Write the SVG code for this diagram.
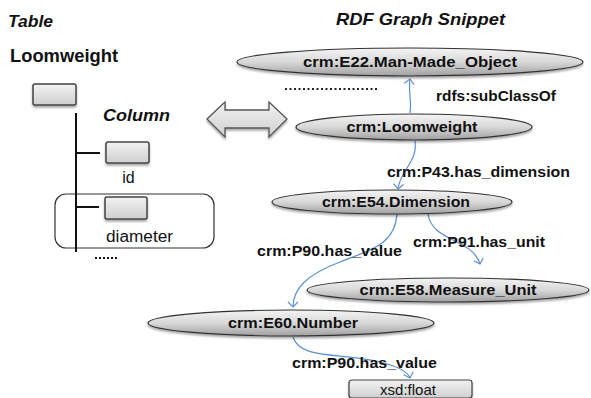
<svg xmlns="http://www.w3.org/2000/svg" width="591" height="398" viewBox="0 0 591 398">
<defs>
<linearGradient id="eg" x1="0" y1="0" x2="0" y2="1">
<stop offset="0" stop-color="#f4f4f4"/>
<stop offset="0.5" stop-color="#d8d8d8"/>
<stop offset="1" stop-color="#a0a0a0"/>
</linearGradient>
<linearGradient id="bg" x1="0" y1="0" x2="0" y2="1">
<stop offset="0" stop-color="#f2f2f2"/>
<stop offset="1" stop-color="#cfcfcf"/>
</linearGradient>
<filter id="sh" x="-10%" y="-30%" width="120%" height="170%">
<feGaussianBlur in="SourceAlpha" stdDeviation="1.2"/>
<feOffset dx="0" dy="2" result="b"/>
<feComponentTransfer><feFuncA type="linear" slope="0.35"/></feComponentTransfer>
<feMerge><feMergeNode/><feMergeNode in="SourceGraphic"/></feMerge>
</filter>
<marker id="ah" markerWidth="12" markerHeight="12" refX="6" refY="6" orient="auto" markerUnits="userSpaceOnUse">
<path d="M1,1 L6,6 L1,11" fill="none" stroke="#5b8fd0" stroke-width="1.2"/>
</marker>
</defs>
<style>
.t{font-family:"Liberation Sans",Arial,sans-serif;fill:#111}
.h{font-size:17px;font-weight:bold;font-style:italic}
.lab{font-size:15.5px;font-weight:bold}
.nl{font-size:15.5px;font-weight:bold;text-anchor:middle}
.ell{fill:url(#eg);stroke:#333;stroke-width:1.2;filter:url(#sh)}
.box{fill:url(#bg);stroke:#444;stroke-width:1.5;filter:url(#sh)}
.c{fill:none;stroke:#5b8fd0;stroke-width:1.2;marker-end:url(#ah)}
</style>
<rect width="591" height="398" fill="#fff"/>

<g id="left-table">
<text class="t h" x="8" y="27" textLength="45" lengthAdjust="spacingAndGlyphs">Table</text>
<text class="t" x="10" y="62" style="font-size:17.5px;font-weight:bold" textLength="108" lengthAdjust="spacingAndGlyphs">Loomweight</text>
<rect class="box" x="33" y="84" width="43" height="21" rx="2"/>
<text class="t h" x="103" y="121" textLength="67" lengthAdjust="spacingAndGlyphs">Column</text>
<rect x="55" y="194" width="159" height="54" rx="11" fill="none" stroke="#333" stroke-width="1.2"/>
<line x1="76" y1="113" x2="76" y2="252" stroke="#111" stroke-width="2"/>
<line x1="76" y1="153" x2="100" y2="153" stroke="#111" stroke-width="2"/>
<line x1="76" y1="207" x2="99" y2="207" stroke="#111" stroke-width="2"/>
<rect class="box" x="106" y="142" width="43" height="21" rx="2"/>
<text class="t" x="128.5" y="183" style="font-size:16px" text-anchor="middle">id</text>
<rect class="box" x="105" y="197" width="42" height="22" rx="2"/>
<text class="t" x="106" y="242" style="font-size:16px" textLength="67" lengthAdjust="spacingAndGlyphs">diameter</text>
<line x1="95" y1="258" x2="119" y2="258" stroke="#111" stroke-width="2" stroke-dasharray="2,2"/>
</g>

<g id="double-arrow">
<polygon points="207,119 225,102 225,110 269,110 269,102 287,119 269,137 269,128 225,128 225,137" fill="url(#bg)" stroke="#555" stroke-width="1.3" filter="url(#sh)"/>
</g>

<text class="t h" x="336" y="25" textLength="169" lengthAdjust="spacingAndGlyphs">RDF Graph Snippet</text>

<g id="connectors">
<path class="c" d="M410,113 C412,100 408,92 410,79"/>
<path class="c" d="M415,141 C418,162 400,170 398,189"/>
<path class="c" d="M397,214 C395,245 370,250 340,262 C305,275 293,290 293,307"/>
<path class="c" d="M428,214 C432,242 472,238 480,264"/>
<path class="c" d="M293,337 C300,360 340,352 380,362 C400,367 408,372 410,378"/>
<line x1="285" y1="89" x2="378" y2="89" stroke="#222" stroke-width="2" stroke-dasharray="2,2.5"/>
<text class="t lab" x="436" y="101" textLength="120" lengthAdjust="spacingAndGlyphs">rdfs:subClassOf</text>
<text class="t lab" x="387" y="177" textLength="183" lengthAdjust="spacingAndGlyphs">crm:P43.has_dimension</text>
<text class="t lab" x="257" y="256" textLength="145" lengthAdjust="spacingAndGlyphs">crm:P90.has_value</text>
<text class="t lab" x="413" y="247" textLength="132" lengthAdjust="spacingAndGlyphs">crm:P91.has_unit</text>
<text class="t lab" x="292" y="368" textLength="145" lengthAdjust="spacingAndGlyphs">crm:P90.has_value</text>
</g>

<g id="e22">
<ellipse class="ell" cx="410" cy="62" rx="173" ry="14"/>
<text class="t nl" x="410" y="67" textLength="214" lengthAdjust="spacingAndGlyphs">crm:E22.Man-Made_Object</text>
</g>
<g id="loomweight">
<ellipse class="ell" cx="414" cy="127" rx="118" ry="13"/>
<text class="t nl" x="412" y="132" textLength="131" lengthAdjust="spacingAndGlyphs">crm:Loomweight</text>
</g>
<g id="e54">
<ellipse class="ell" cx="392" cy="202" rx="120" ry="12"/>
<text class="t nl" x="396" y="207" textLength="148" lengthAdjust="spacingAndGlyphs">crm:E54.Dimension</text>
</g>
<g id="e58">
<ellipse class="ell" cx="448" cy="290" rx="141" ry="12"/>
<text class="t nl" x="448" y="295" textLength="177" lengthAdjust="spacingAndGlyphs">crm:E58.Measure_Unit</text>
</g>
<g id="e60">
<ellipse class="ell" cx="291" cy="323" rx="143" ry="13"/>
<text class="t nl" x="293" y="328" textLength="130" lengthAdjust="spacingAndGlyphs">crm:E60.Number</text>
</g>
<g id="xsd-float">
<rect class="box" x="349" y="380" width="123" height="18" rx="3" style="stroke-width:1.2"/>
<text class="t" x="408" y="395" style="font-size:15px" text-anchor="middle">xsd:float</text>
</g>
</svg>
